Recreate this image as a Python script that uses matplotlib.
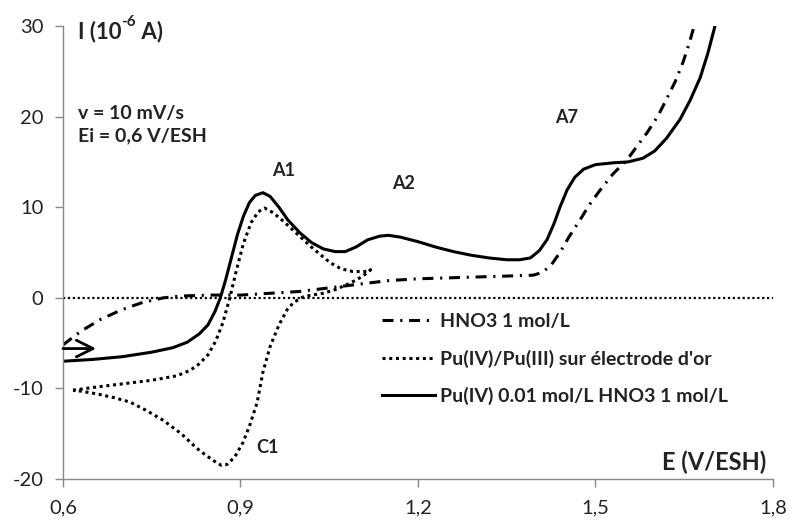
import matplotlib
matplotlib.use("Agg")
import matplotlib.pyplot as plt
from matplotlib.lines import Line2D
from matplotlib.ticker import FuncFormatter

plt.rcParams['font.family'] = ['Lato', 'DejaVu Sans']
plt.rcParams['axes.unicode_minus'] = False

# Pu(IV) 0.01 mol/L in HNO3 1 mol/L (solid)
E_pu = [0.600, 0.650, 0.700, 0.750, 0.786, 0.810, 0.830, 0.845, 0.857, 0.866,
        0.875, 0.885, 0.895, 0.905, 0.915, 0.925, 0.938, 0.950, 0.965, 0.980,
        1.000, 1.020, 1.040, 1.060, 1.077, 1.095, 1.115, 1.135, 1.150, 1.170,
        1.200, 1.230, 1.260, 1.290, 1.320, 1.350, 1.372, 1.390, 1.405, 1.418,
        1.430, 1.440, 1.452, 1.465, 1.480, 1.500, 1.530, 1.555, 1.580, 1.600,
        1.620, 1.643, 1.660, 1.677, 1.690, 1.702]
I_pu = [-7.0, -6.8, -6.5, -6.0, -5.5, -4.9, -4.0, -3.0, -1.5, 0.0,
        2.0, 4.5, 7.0, 9.0, 10.5, 11.3, 11.6, 11.2, 10.0, 8.6,
        7.2, 6.1, 5.4, 5.1, 5.1, 5.6, 6.4, 6.8, 6.9, 6.7,
        6.2, 5.6, 5.1, 4.7, 4.4, 4.2, 4.2, 4.4, 5.2, 6.4,
        8.2, 10.0, 11.9, 13.3, 14.2, 14.7, 14.9, 15.0, 15.4, 16.2,
        17.6, 19.7, 21.8, 24.3, 27.0, 30.0]

# HNO3 1 mol/L blank (dash-dot)
E_hno3 = [0.600, 0.630, 0.663, 0.700, 0.735, 0.770, 0.800, 0.850, 0.900, 0.950,
          1.000, 1.050, 1.100, 1.150, 1.200, 1.250, 1.300, 1.350, 1.395, 1.410,
          1.425, 1.440, 1.455, 1.474, 1.490, 1.508, 1.530, 1.553, 1.570, 1.587,
          1.605, 1.620, 1.635, 1.648, 1.658, 1.666]
I_hno3 = [-5.2, -3.7, -2.4, -1.3, -0.5, 0.0, 0.2, 0.3, 0.3, 0.5,
          0.7, 1.1, 1.5, 1.9, 2.1, 2.2, 2.3, 2.4, 2.5, 2.8,
          3.6, 5.0, 6.7, 8.6, 10.3, 11.9, 13.7, 15.2, 16.7, 18.2,
          20.0, 21.9, 23.9, 26.0, 28.0, 29.8]

# Pu(IV)/Pu(III) on gold electrode, forward then reverse scan (dotted)
E_au = [0.617, 0.650, 0.700, 0.750, 0.793, 0.815, 0.830, 0.845, 0.858, 0.870,
        0.882, 0.893, 0.905, 0.918, 0.930, 0.941, 0.955, 0.970, 0.995, 1.020,
        1.051, 1.070, 1.090, 1.110, 1.120,
        1.107, 1.085, 1.060, 1.040, 1.020, 1.006, 0.990, 0.979, 0.965, 0.950,
        0.938, 0.928, 0.915, 0.904, 0.890, 0.877, 0.868, 0.855, 0.840, 0.826,
        0.800, 0.769, 0.740, 0.713, 0.685, 0.657, 0.630, 0.617]
I_au = [-10.2, -9.9, -9.5, -9.1, -8.6, -8.0, -7.3, -6.3, -4.8, -2.8,
        0.0, 3.0, 6.0, 8.3, 9.5, 9.9, 9.4, 8.6, 7.1, 5.6,
        3.9, 3.2, 2.9, 2.9, 3.1,
        2.4, 1.6, 0.9, 0.5, 0.3, 0.1, -0.5, -1.3, -3.0, -5.4,
        -8.2, -11.6, -14.2, -16.0, -17.6, -18.4, -18.5, -18.0, -17.3, -16.6,
        -15.0, -13.5, -12.4, -11.5, -11.0, -10.6, -10.3, -10.2]

x_ticks = [0.6, 0.9, 1.2, 1.5, 1.8]
y_ticks = [-20, -10, 0, 10, 20, 30]

labels = ["HNO3 1 mol/L",
          "Pu(IV)/Pu(III) sur électrode d'or",
          "Pu(IV) 0.01 mol/L HNO3 1 mol/L"]

fig = plt.figure(figsize=(7.91, 5.2), dpi=100)
ax = fig.add_axes([0.0796, 0.0788, 0.8976, 0.8712])

dashdot = (0, (3.6, 2.2, 0.7, 2.2))
dots = (0, (1, 1.2))

ax.axhline(0, color='black', lw=1.6, ls=dots)
ax.plot(E_hno3, I_hno3, color='black', lw=2.2, ls=dashdot)
ax.plot(E_au, I_au, color='black', lw=2.2, ls=dots)
ax.plot(E_pu, I_pu, color='black', lw=2.2)

# scan direction arrow
ax.annotate("", xy=(0.656, -5.6), xytext=(0.6, -5.6),
            arrowprops=dict(arrowstyle='->, head_length=0.6, head_width=0.3',
                            color='black', lw=2, mutation_scale=20,
                            shrinkA=0, shrinkB=0))

ax.set_xlim(0.6, 1.8)
ax.set_ylim(-20, 30)
ax.set_xticks(x_ticks)
ax.set_yticks(y_ticks)
ax.xaxis.set_major_formatter(FuncFormatter(lambda v, p: f"{v:.1f}".replace('.', ',')))
ax.tick_params(axis='x', direction='out', length=6, width=1, color='#888888',
               labelsize=14.5, pad=9, labelcolor='#222222')
ax.tick_params(axis='y', direction='out', length=6, width=1, color='#888888',
               labelsize=14.5, pad=8, labelcolor='#222222')
for s in ['top', 'right']:
    ax.spines[s].set_visible(False)
for s in ['left', 'bottom']:
    ax.spines[s].set_color('#888888')
    ax.spines[s].set_linewidth(1)

bold = dict(fontweight='bold', color='#222222')
t1 = ax.text(0.625, 28.6, "I (10", fontsize=16, va='baseline', ha='left', **bold)
t2 = ax.annotate("-6", xy=(1.0, 0.62), xycoords=t1, fontsize=11,
                 va='bottom', ha='left', **bold)
ax.annotate(" A)", xy=(1.0, 0.0), xycoords=(t2, t1), fontsize=16,
            va='bottom', ha='left', **bold)
ax.text(0.625, 20.3, "v = 10 mV/s", fontsize=14, va='center', ha='left', **bold)
ax.text(0.625, 17.9, "Ei = 0,6 V/ESH", fontsize=14, va='center', ha='left', **bold)
ax.text(0.973, 14.1, "A1", fontsize=13, ha='center', va='center', **bold)
ax.text(1.176, 12.6, "A2", fontsize=13, ha='center', va='center', **bold)
ax.text(1.452, 19.9, "A7", fontsize=13, ha='center', va='center', **bold)
ax.text(0.945, -16.5, "C1", fontsize=13, ha='center', va='center', **bold)
ax.text(1.789, -18.1, "E (V/ESH)", fontsize=17, ha='right', va='center', **bold)

handles = [Line2D([], [], color='black', lw=2.2, ls=dashdot),
           Line2D([], [], color='black', lw=2.2, ls=dots),
           Line2D([], [], color='black', lw=2.2)]
leg = ax.legend(handles, labels, loc='upper left', bbox_to_anchor=(0.45, 0.366),
                frameon=False, borderpad=0, borderaxespad=0,
                handlelength=2.7, handletextpad=0.25, labelspacing=1.0,
                prop=dict(family=['Lato', 'DejaVu Sans'], weight='bold', size=14))
for t in leg.get_texts():
    t.set_color('#222222')

plt.savefig('out.png', dpi=100)
